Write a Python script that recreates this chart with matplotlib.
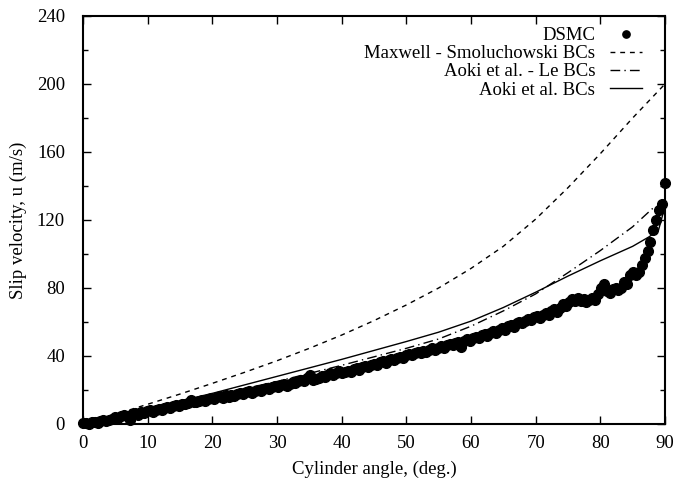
import numpy as np
import matplotlib
matplotlib.use("Agg")
import matplotlib.pyplot as plt
from matplotlib.ticker import MultipleLocator

# DSMC slip velocity, evenly spaced angles 0..90 deg (201 samples)
dsmc_u = [
    0.3, 0.6, 0.2, 0.9, 1.2, 0.8, 1.5, 2.1, 1.8, 2.6, 3.2,
    4.1, 3.6, 4.8, 5.5, 4.9, 2.1, 5.8, 6.3, 5.2, 7.0,
    6.4, 7.5, 8.1, 7.2, 8.4, 9.0, 8.3, 9.6, 10.2, 9.4,
    10.8, 11.3, 10.6, 12.0, 11.5, 12.6, 13.9, 12.8, 13.2, 13.6,
    14.2, 13.5, 14.8, 15.3, 14.6, 15.9, 16.3, 15.4, 16.8, 16.1,
    17.2, 16.6, 17.8, 18.3, 17.4, 18.7, 19.2, 18.5, 19.6, 20.2,
    19.4, 20.8, 21.3, 20.5, 21.7, 22.4, 21.6, 22.8, 23.4, 22.6,
    23.8, 24.5, 23.9, 25.2, 26.1, 25.4, 26.8, 28.6, 25.9, 26.4,
    27.1, 28.3, 27.6, 28.9, 29.7, 28.8, 30.2, 30.9, 29.8, 30.6,
    31.4, 30.8, 32.1, 32.8, 31.9, 33.4, 34.2, 33.3, 34.8, 35.5,
    34.9, 36.2, 36.9, 36.1, 37.4, 38.2, 37.5, 38.8, 39.6, 38.9,
    40.3, 41.2, 40.4, 41.8, 42.6, 41.9, 43.2, 42.5, 43.8, 44.4,
    43.6, 44.9, 45.7, 44.8, 46.2, 47.1, 46.3, 47.8, 48.4, 45.2,
    48.9, 49.8, 49.1, 50.6, 51.3, 50.4, 52.1, 52.9, 51.8, 53.6,
    54.4, 53.5, 55.2, 56.3, 55.4, 57.6, 58.5, 57.2, 59.3, 60.1,
    59.2, 60.8, 61.9, 61.0, 62.7, 63.6, 62.4, 64.3, 65.2, 64.1,
    66.3, 67.4, 66.1, 68.5, 70.6, 69.2, 71.8, 73.4, 72.1, 74.2,
    72.6, 73.8, 71.9, 72.8, 74.1, 73.2, 76.4, 79.8, 82.6, 78.3,
    77.1, 79.4, 80.2, 78.6, 80.2, 83.4, 82.1, 87.4, 89.2, 87.8,
    89.6, 93.5, 97.5, 102.0, 107.0, 114.0, 120.0, 126.0, 129.5, 142.0,
]
dsmc_angle = np.linspace(0, 90, len(dsmc_u))

# Maxwell - Smoluchowski BCs
ms_angle = [0, 5, 10, 15, 20, 25, 30, 35, 40, 45, 50, 55, 60, 65, 70, 75, 80, 85, 90]
ms_u = [0, 5.7, 11.6, 17.6, 23.9, 30.4, 37.2, 44.5, 52.3, 60.8, 70.0, 80.0, 91.5,
        104.5, 120.5, 139.0, 159.0, 180.0, 200.0]

# Aoki et al. - Le BCs
le_angle = [0, 10, 20, 30, 40, 45, 50, 55, 60, 65, 70, 75, 80, 85, 88, 90]
le_u = [0, 8.0, 16.5, 25.0, 34.5, 39.5, 44.5, 50.0, 57.5, 66.5, 76.5, 89.0, 102.0,
        116.0, 126.5, 130.0]

# Aoki et al. BCs
ao_angle = [0, 10, 20, 30, 40, 50, 55, 60, 65, 70, 75, 80, 85, 87.5, 89, 90]
ao_u = [0, 9.0, 18.0, 28.0, 38.0, 48.5, 54.0, 60.5, 68.5, 77.5, 87.0, 96.0, 104.5,
        110.0, 114.0, 128.0]

plt.rcParams["font.family"] = ["Liberation Serif", "DejaVu Serif"]
plt.rcParams["font.size"] = 13.5

fig = plt.figure(figsize=(6.76, 4.83), dpi=100)
ax = fig.add_axes([0.1228, 0.1222, 0.8609, 0.8447])

ax.plot(dsmc_angle, dsmc_u, "o", color="black", markersize=7, clip_on=False,
        label="DSMC", zorder=3)
ax.plot(ms_angle, ms_u, color="black", lw=1.0, dashes=(3.5, 3.5),
        label="Maxwell - Smoluchowski BCs")
ax.plot(le_angle, le_u, color="black", lw=1.0, dashes=(7, 3, 1, 3),
        label="Aoki et al. - Le BCs")
ax.plot(ao_angle, ao_u, color="black", lw=1.0, label="Aoki et al. BCs")

ax.set_xlim(0, 90)
ax.set_ylim(0, 240)
ax.xaxis.set_major_locator(MultipleLocator(10))
ax.yaxis.set_major_locator(MultipleLocator(40))
ax.yaxis.set_minor_locator(MultipleLocator(20))
ax.tick_params(which="both", direction="in", top=True, right=True, width=1.0)
ax.tick_params(which="major", length=6)
ax.tick_params(which="minor", length=3.5)
ax.tick_params(axis="x", pad=8)
ax.tick_params(axis="y", pad=13)
for s in ax.spines.values():
    s.set_linewidth(1.5)

ax.set_xlabel("Cylinder angle, (deg.)", labelpad=6)
ax.set_ylabel("Slip velocity, u (m/s)", labelpad=7)

leg = ax.legend(loc="upper right", markerfirst=False, frameon=False,
                handlelength=1.7, handletextpad=0.8, labelspacing=0.05,
                borderaxespad=0.2, bbox_to_anchor=(0.98, 1.0), numpoints=1,
                markerscale=0.75)

fig.savefig("out.png")
